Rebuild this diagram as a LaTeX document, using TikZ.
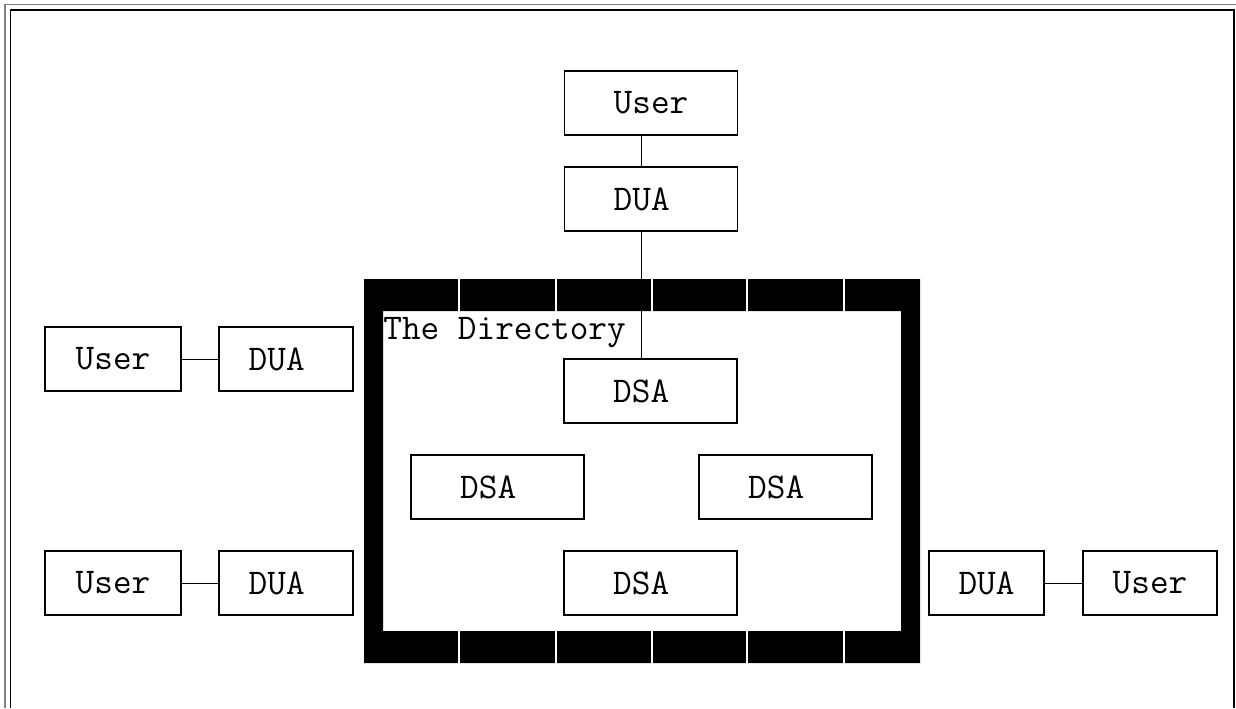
\documentclass[tikz,border=0pt]{standalone}
\usepackage{fontspec}
\usetikzlibrary{calc}
\def\pad#1{#1\hphantom{A}}

\begin{document}
\begin{tikzpicture}[x=0.5pt, y=-0.5pt,
		box/.style={draw, line width=0.6pt, inner sep=0pt, minimum height=32pt, font=\ttfamily\fontsize{18.1}{20}\selectfont},
		link/.style={line width=0.5pt}]
		%%%%% START %%%%%
		\useasboundingbox (0, 0) rectangle (1236, 708);
		
		\draw[line width=0.9pt, color=black!50] (5, 708) -- (5, 4.5) -- (1236, 4.5);
		\draw[line width=0.6pt] (10.5, 708) -- (10.5, 10) -- (1234, 10) -- (1234, 708);
		
		\fill[even odd rule] (364, 279) rectangle (920, 663) (383, 311) rectangle (901, 631);
		\foreach \x in {459, 556, 652, 747, 844} {
			\draw[white, line width=0.6pt] (\x, 279) -- (\x, 311);
			\draw[white, line width=0.6pt] (\x, 631) -- (\x, 663);
		}
		\node[anchor=base west, inner sep=0pt, font=\ttfamily\fontsize{18.1}{20}\selectfont] (dirLabel) at (383, 339) {The Directory};
		
		\node[box, minimum width=86.5pt] (topUser) at (651, 103) {User};
		\node[box, minimum width=86.5pt] (topDUA) at (651, 199) {\pad{DUA}};
		
		\node[box, minimum width=86.5pt] (dsaTop) at (650.5, 391) {\pad{DSA}};
		\node[box, minimum width=86.5pt] (dsaLeft) at (497.5, 487) {\pad{DSA}};
		\node[box, minimum width=86.5pt] (dsaRight) at (785.5, 487) {\pad{DSA}};
		\node[box, minimum width=86.5pt] (dsaBottom) at (650.5, 583) {\pad{DSA}};
		
		\node[box, minimum width=68pt] (userA) at (113, 359) {User};
		\node[box, minimum width=67pt] (duaA) at (286, 359) {\pad{DUA}};
		\node[box, minimum width=68pt] (userB) at (113, 583) {User};
		\node[box, minimum width=67pt] (duaB) at (286, 583) {\pad{DUA}};
		
		\node[box, minimum width=57.5pt] (duaC) at (986.5, 583) {DUA};
		\node[box, minimum width=67pt] (userC) at (1150, 583) {User};
		
		\coordinate (trunk) at (641, 0);
		\draw[link] (topUser.south -| trunk) -- (topDUA.north -| trunk);
		\draw[link] (topDUA.south -| trunk) -- (dsaTop.north -| trunk);
		\draw[link] (userA) -- (duaA);
		\draw[link] (userB) -- (duaB);
		\draw[link] (duaC) -- (userC);
		
		%%%%% END %%%%%
	\end{tikzpicture}
\end{document}
